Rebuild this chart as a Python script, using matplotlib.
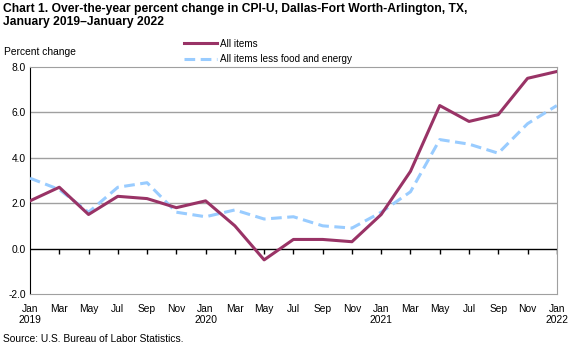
import numpy as np
import matplotlib
matplotlib.use("Agg")
import matplotlib.pyplot as plt

plt.rcParams["font.family"] = ["Liberation Sans", "DejaVu Sans"]

# bimonthly readings, Jan 2019 - Jan 2022
months = ["Jan", "Mar", "May", "Jul", "Sep", "Nov"] * 3 + ["Jan"]
years = {0: "2019", 6: "2020", 12: "2021", 18: "2022"}
all_items = [2.1, 2.7, 1.5, 2.3, 2.2, 1.8, 2.1, 1.0, -0.5, 0.4,
             0.4, 0.3, 1.5, 3.4, 6.3, 5.6, 5.9, 7.5, 7.8]
core = [3.1, 2.6, 1.6, 2.7, 2.9, 1.6, 1.4, 1.7, 1.3, 1.4,
        1.0, 0.9, 1.6, 2.5, 4.8, 4.6, 4.2, 5.5, 6.3]

x = np.arange(len(months))
tick_labels = [m + ("\n" + years[i] if i in years else "") for i, m in enumerate(months)]

fs = 7.4

fig = plt.figure(figsize=(5.77, 3.47), dpi=100)
ax = fig.add_axes([0.052, 0.153, 0.913, 0.654])

for y in [2, 4, 6]:
    ax.axhline(y, color="#a0a0a0", lw=1, zorder=1)
ax.axhline(0, color="black", lw=1, zorder=2)
ax.vlines(x[1:], -0.22, 0, color="black", lw=1, zorder=2)

ax.plot(x, core, color="#99ccff", lw=2.2, dashes=(3.5, 1.8), label="All items less food and energy", zorder=3)
ax.plot(x, all_items, color="#993366", lw=2.2, label="All items", zorder=4)

ax.set_xlim(0, 18)
ax.set_ylim(-2, 8)
ax.set_yticks(np.arange(-2, 9, 2))
ax.set_yticklabels([f"{v:.1f}" for v in np.arange(-2, 9, 2)], fontsize=fs)
ax.set_xticks(x)
ax.set_xticklabels(tick_labels, fontsize=fs, linespacing=1.15)
ax.tick_params(axis="both", length=0, pad=3)
ax.tick_params(axis="x", pad=7)

for side in ["top", "right", "bottom"]:
    ax.spines[side].set_color("#a0a0a0")
ax.spines["left"].set_color("black")

handles, labels = ax.get_legend_handles_labels()
fig.legend(handles[::-1], labels[::-1], loc="upper left", bbox_to_anchor=(0.312, 0.9),
           frameon=False, fontsize=7.1, handlelength=3.4, handletextpad=0.25,
           labelspacing=0.55, borderaxespad=0)

fig.text(0.006, 0.992, "Chart 1. Over-the-year percent change in CPI-U, Dallas-Fort Worth-Arlington, TX,\nJanuary 2019\u2013January 2022",
         fontsize=8.7, fontweight="bold", va="top", ha="left", linespacing=1.15)
fig.text(0.007, 0.85, "Percent change", fontsize=fs, va="center")
fig.text(0.005, 0.01, "Source: U.S. Bureau of Labor Statistics.", fontsize=fs, va="bottom")

fig.savefig("out.png", dpi=100)
